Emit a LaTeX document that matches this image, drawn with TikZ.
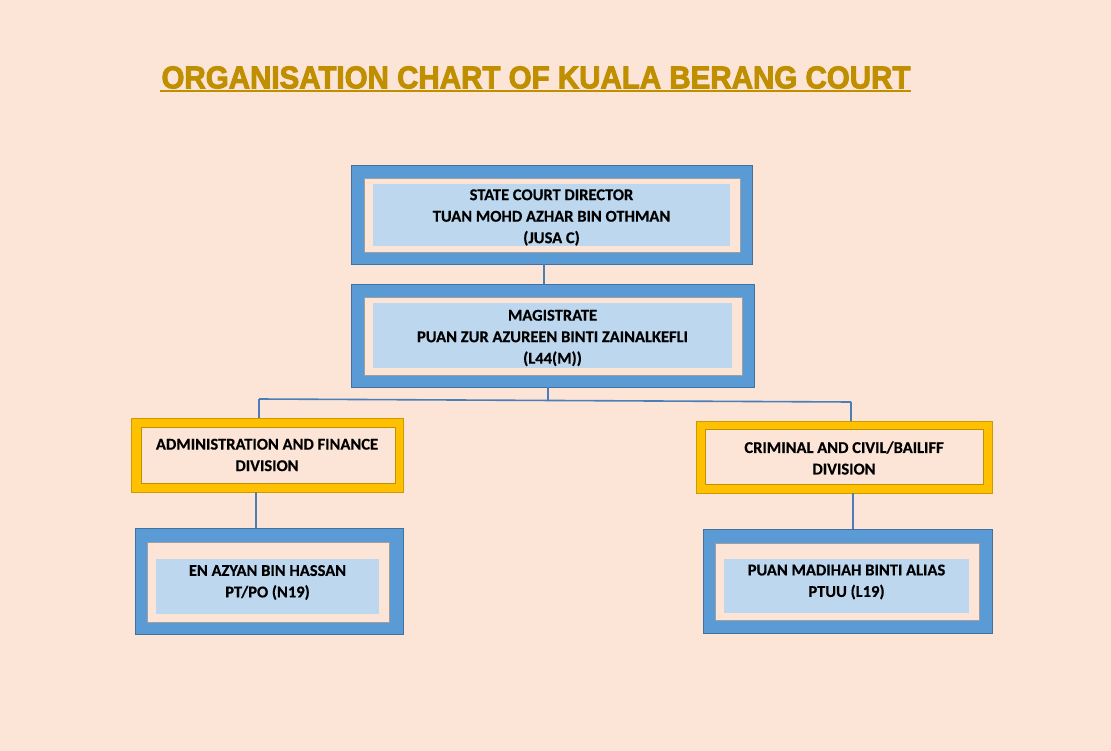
\documentclass[tikz,border=0pt]{standalone}
\usepackage{fontspec}
\setmainfont{Carlito}[BoldFeatures={FakeBold=0.4}]
\newfontfamily\titlefont[BoldFeatures={FakeBold=3}]{Liberation Sans}
\definecolor{bg}{HTML}{FCE4D6}
\definecolor{midblue}{HTML}{5B9BD5}
\definecolor{lightblue}{HTML}{BDD7EE}
\definecolor{frameline}{HTML}{41719C}
\definecolor{gold}{HTML}{FFC000}
\definecolor{golddark}{HTML}{BF9000}
\definecolor{titlecol}{HTML}{BF8F00}
\definecolor{connblue}{HTML}{4A7EBB}
\tikzset{
  bluefr/.style={draw=frameline, line width=0.8pt, fill=midblue, inner sep=0pt},
  peachfr/.style={draw=gray!75, line width=0.8pt, fill=bg, inner sep=0pt},
  goldfr/.style={draw=golddark!80!gold, line width=0.6pt, fill=gold, inner sep=0pt},
  goldin/.style={draw=golddark, line width=0.8pt, fill=bg, inner sep=0pt},
  lbfill/.style={fill=lightblue, inner sep=0pt},
  txt/.style={align=center, inner sep=0pt, font=\fontsize{16.5}{21.5}\selectfont\bfseries, text=black},
  conn/.style={draw=connblue, line width=1.6pt}
}
\begin{document}
\begin{tikzpicture}[x=1pt,y=-1pt]
\fill[bg] (0,0) rectangle (1111,751);
\useasboundingbox (0,0) rectangle (1111,751);
% title
\node[inner sep=0pt, text=titlecol] (title) at (536,77.5) {\resizebox{749pt}{22pt}{\titlefont\bfseries ORGANISATION CHART OF KUALA BERANG COURT}};
\coordinate (ulL) at (160,91);
\coordinate (ulR) at (911,91);
\draw[titlecol, line width=2pt] (ulL) -- (ulR);
% director
\node[bluefr, minimum width=401pt, minimum height=99pt] (d1o) at (551.5,214.5) {};
\node[peachfr, minimum width=376pt, minimum height=74pt] (d1p) at (552,215) {};
\node[lbfill, minimum width=357pt, minimum height=62pt] (d1l) at (551.5,215) {};
\node[txt] (d1t) at (551.5,217.5) {STATE COURT DIRECTOR\\TUAN MOHD AZHAR BIN OTHMAN\\(JUSA C)};
% magistrate
\node[bluefr, minimum width=403pt, minimum height=103pt] (mo) at (552.5,335.5) {};
\node[peachfr, minimum width=378pt, minimum height=78pt] (mp) at (553,336) {};
\node[lbfill, minimum width=359pt, minimum height=65pt] (ml) at (552.5,335.5) {};
\node[txt] (mt) at (552.5,338) {MAGISTRATE\\PUAN ZUR AZUREEN BINTI ZAINALKEFLI\\(L44(M))};
% admin division
\node[goldfr, minimum width=272pt, minimum height=74pt] (Ao) at (267,455) {};
\node[goldin, minimum width=254pt, minimum height=56pt] (Ai) at (268,455) {};
\node[txt] (At) at (267,455) {ADMINISTRATION AND FINANCE\\DIVISION};
% criminal division
\node[goldfr, minimum width=296pt, minimum height=72pt] (Co) at (844,457) {};
\node[goldin, minimum width=278pt, minimum height=55pt] (Ci) at (844,456.5) {};
\node[txt] (Ct) at (844,458) {CRIMINAL AND CIVIL/BAILIFF\\DIVISION};
% en azyan
\node[bluefr, minimum width=268pt, minimum height=106pt] (Eo) at (269,581) {};
\node[peachfr, minimum width=242pt, minimum height=80pt] (Ep) at (268,582) {};
\node[lbfill, minimum width=223pt, minimum height=55pt] (El) at (267.5,586.5) {};
\node[txt] (Et) at (267.5,582.5) {EN AZYAN BIN HASSAN\\PT/PO (N19)};
% puan madihah
\node[bluefr, minimum width=289pt, minimum height=104pt] (Po) at (847.5,581) {};
\node[peachfr, minimum width=264pt, minimum height=77pt] (Pp) at (847,581.5) {};
\node[lbfill, minimum width=245pt, minimum height=54pt] (Pl) at (846.5,586) {};
\node[txt] (Pt) at (846.5,582) {PUAN MADIHAH BINTI ALIAS\\PTUU (L19)};
% connectors
\coordinate (j) at (548,400);
\coordinate (hl) at (259,399);
\coordinate (hr) at (851,402);
\draw[conn] ([xshift=-7.5pt]d1o.south) -- ([xshift=-8.5pt]mo.north);
\draw[conn] ([xshift=-4.5pt]mo.south) -- (j);
\draw[conn] (hl) -- (hr);
\draw[conn] (hl) -- (hl |- Ao.north);
\draw[conn] (hr) -- (hr |- Co.north);
\draw[conn] ([xshift=-11pt]Ao.south) -- ([xshift=-13pt]Eo.north);
\draw[conn] ([xshift=9pt]Co.south) -- ([xshift=5.5pt]Po.north);
\end{tikzpicture}
\end{document}
